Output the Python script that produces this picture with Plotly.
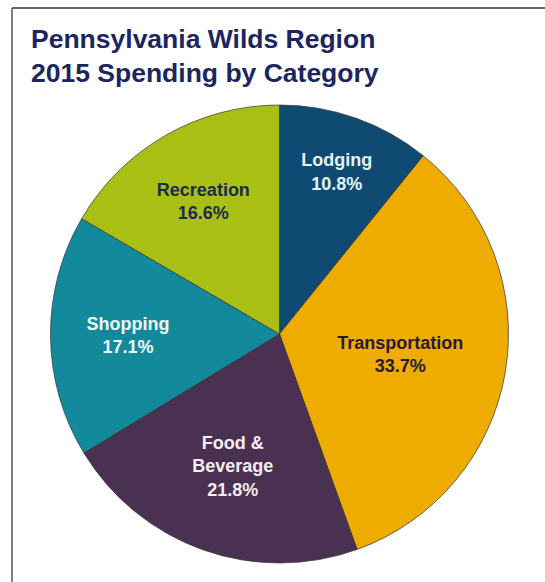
import plotly.graph_objects as go

categories = ["Lodging", "Transportation", "Food &<br>Beverage", "Shopping", "Recreation"]
shares = [10.8, 33.7, 21.8, 17.1, 16.6]
slice_colors = ["#0e4a72", "#eeab00", "#4b3151", "#138a9b", "#a9bf14"]
text_colors = ["#e6f2f8", "#2b1838", "#f3eef3", "#eef8f8", "#1c2a50"]

W, H = 545, 582

fig = go.Figure(go.Pie(
    labels=categories,
    values=shares,
    sort=False,
    direction="clockwise",
    rotation=0,
    marker=dict(colors=slice_colors, line=dict(color="rgba(50,50,50,0.7)", width=1)),
    texttemplate="<b>%{label}<br>%{value:.1f}%</b>",
    textposition="inside",
    insidetextorientation="horizontal",
    textfont=dict(family="Liberation Sans, Arial", size=18, color=text_colors),
    hoverinfo="label+value",
    showlegend=False,
    domain=dict(x=[49 / W, 510 / W], y=[19 / H, 477 / H]),
))

fig.update_layout(
    width=W, height=H,
    margin=dict(l=0, r=0, t=0, b=0),
    paper_bgcolor="white",
    plot_bgcolor="white",
    uniformtext=dict(minsize=18, mode="show"),
    annotations=[dict(
        text="<b>Pennsylvania Wilds Region<br>2015 Spending by Category</b>",
        x=29 / W, y=1 - 22 / H, xref="paper", yref="paper",
        xanchor="left", yanchor="top", align="left", showarrow=False,
        font=dict(family="Liberation Sans, Arial", size=26.5, color="#1b2660"),
    )],
    shapes=[
        dict(type="line", xref="paper", yref="paper", x0=12 / W, x1=1, y0=1 - 8 / H, y1=1 - 8 / H,
             line=dict(color="#333333", width=1.5)),
        dict(type="line", xref="paper", yref="paper", x0=12 / W, x1=12 / W, y0=0, y1=1 - 8 / H,
             line=dict(color="#555555", width=1.5)),
    ],
)

fig.write_html(
    "out.html",
    config={"displayModeBar": False},
    post_script="document.body.style.margin='0';document.body.style.padding='0';",
)
